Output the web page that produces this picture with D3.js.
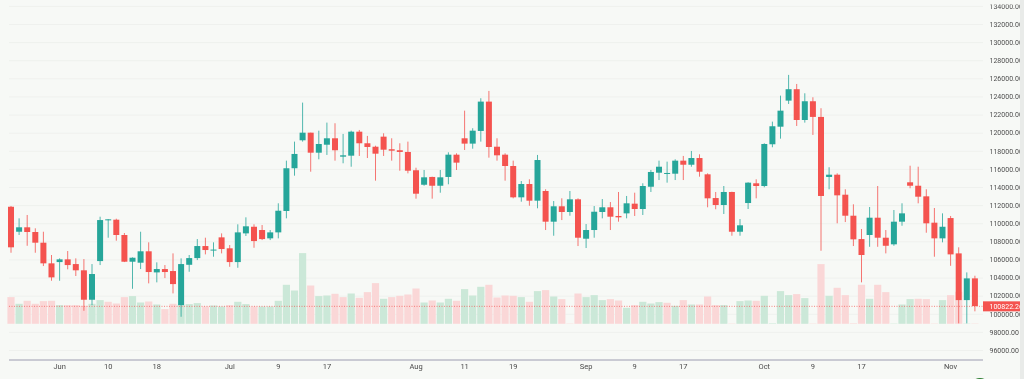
<!DOCTYPE html>
<html>
<head>
<meta charset="utf-8">
<style>
html, body { margin: 0; padding: 0; background: #f7f9f6; overflow: hidden; }
svg { display: block; filter: blur(0.45px); }
text { font-family: Roboto, sans-serif; }
</style>
<script src="https://cdn.jsdelivr.net/npm/d3@7"></script>
</head>
<body>
<div id="chart"></div>
<script>
var opens = [111820,109060,109550,109030,107850,105570,105710,106010,105490,104800,
  101550,105820,110350,110390,108700,105750,105640,106900,104570,104940,
  104720,100960,105410,106150,107480,107040,108440,107230,105710,108880,
  109610,109250,108330,108990,111350,116070,119160,120000,117790,118670,
  119380,117350,117460,120110,118830,118450,119560,118170,118060,117870,
  115850,114250,115110,114140,115110,117570,119380,118790,120190,123430,
  118450,117570,116320,112860,114330,112490,113560,110170,111870,111240,
  112640,108290,109250,111240,111760,110800,111090,112160,111570,114030,
  115580,115470,115470,116910,116460,117200,115400,112780,112010,113450,
  109060,112230,114410,114110,118720,120660,123540,124800,121400,123470,
  121740,115110,115360,113150,110830,108250,108700,110610,108400,107670,
  110170,114520,114140,112970,110060,108330,110570,106670,101510,103910];

var closes = [107340,109550,109030,107850,105570,104020,106010,105380,104800,101550,
  104390,110350,110430,108700,105750,106190,106900,104610,104940,104610,
  103280,105490,106150,107480,107040,107090,107150,105710,108990,109660,
  108030,108250,108990,111380,116070,117650,120000,117790,118750,119380,
  118060,117500,120110,118830,118420,117680,118120,118010,117870,115800,
  113260,115070,114140,115070,117570,116690,118790,120220,123430,118420,
  117500,116320,112860,114330,112490,116980,110170,111870,111240,112640,
  108400,109250,111270,111760,110720,110650,112200,111570,114110,115660,
  116240,115550,116910,116460,117200,115690,112750,112010,113450,109060,
  109770,114480,114110,118750,120710,122430,124800,121400,123470,121740,
  113010,115360,113080,110830,108220,106490,110610,108400,107510,110170,
  111090,114140,112930,109990,108330,109610,106560,101510,103910,100850];

var highs = [111900,110540,110910,109440,109060,106490,106120,106930,106120,106040,
  105490,110720,110460,110500,108920,106230,109060,107890,105680,105380,
  106670,106120,106490,108250,108400,107890,108880,107590,109880,110650,
  109880,109800,109250,112200,116910,119010,123320,120000,120220,121110,
  121040,119860,120220,120300,119640,118560,119930,119380,118830,119010,
  116130,115880,115140,115880,117830,117720,122430,120490,123800,124610,
  119380,117720,116910,114660,114850,117540,113750,112450,112750,113560,
  112750,109910,111900,112670,112340,113450,113010,113370,114410,115880,
  116910,116800,117060,117430,117980,117610,115510,113450,114110,113480,
  110460,114520,114850,118830,121220,124090,126380,125380,124350,123910,
  122700,116180,115510,113750,112090,109360,111790,114110,109250,111460,
  112200,116350,116240,113750,111680,111090,110800,107340,104570,104200];

var lows = [106740,108700,107510,106740,105270,103650,103650,104910,104170,100330,
  100960,105380,108400,108070,105710,102760,104940,103360,103470,103940,
  102250,99670,104640,105930,106560,106300,106670,105190,105080,108590,
  107290,108140,108140,108330,110540,115250,119010,115690,117060,117540,
  116910,116620,116240,117430,117200,114700,117430,116910,115800,115510,
  112710,114140,112710,113370,114300,115880,118090,118230,119010,117240,
  116910,114700,112750,112380,111930,111650,109250,108620,110350,110830,
  107480,107260,108400,110540,109250,110170,110540,110800,110910,113450,
  114770,114480,114770,114770,116240,115140,111760,111540,111020,108620,
  108620,111570,112750,113970,118390,119340,123170,120740,121110,119750,
  106960,113750,109990,110130,107480,103470,107400,107400,106670,107510,
  109720,113860,112200,108950,106300,107890,105300,98940,98940,100270];

// volume scale is unknown in the picture, values are relative
var volumes = [26.7,20,23,20,22.7,23,18.7,18.7,18.7,18,20,23.7,22,20.3,26.7,27.7,21.3,22.3,19.3,14.7,
  20,19,19.7,20.7,17.3,18.3,17.3,18.7,22,19.7,17.3,
  17.3,17.3,23,39,33.3,70.7,38.3,27.7,28.3,30,26.7,30.3,26,31.7,40.7,25,26.7,28,29.3,
  35.3,21.3,23.3,21.3,25,23,34.7,28.3,37,39,26.3,28.3,28,26.7,
  22,32.7,33.7,27.3,24.7,0.3,30.3,26.7,28.7,23.7,24.7,23.3,16,18.7,22,20.3,
  21.7,21,18,23.7,19.3,19.3,27.3,18.7,18.7,0.3,22.7,23.3,23,28,0.5,32.7,
  28.7,29.7,25.7,0.3,59.7,28,36,28.7,0.5,39,25,39,31.7,0.3,19.3,24.7,25,24.7,0.3,23.7,
  28.7,32,0.3,0.3];

var volumeSides = ("rgrrrrgrrrggrrrggrgrrgggrggrggr" +
  "ggggggrggrrgrrrgrrrrgrggrgggrrrrg" +
  "rgrgrrrgggrrgrgggrgrgrrrgrggrggg" +
  "grgrrgrrrrgrrgggrrrgrrgr").split("");

var tickIdx = [6,12,18,27,33,39,50,56,62,71,77,83,93,99,105,116];
var tickLabels = ["Jun","10","18","Jul","9","17","Aug","11","19","Sep","9","17","Oct","9","17","Nov"];
var priceTicks = d3.range(96000, 136000, 2000);
var lastPrice = 100822.26;

var width = 1024;
var height = 379;
var plotLeft = 9;
var plotRight = 983;

var green = "#26a69a";
var red = "#f4534f";

var svg = d3.select("#chart").append("svg")
    .attr("width", width)
    .attr("height", height);

var x = d3.scaleBand()
    .domain(d3.range(opens.length))
    .range([6.95, 6.95 + 8.1 * opens.length]);

var y = d3.scaleLinear()
    .domain([96000, 134000])
    .range([350, 5.9]);

var vol = d3.scaleLinear()
    .domain([0, 70.7])
    .range([323.8, 253.1]);

var mid = function (i) { return x(i) + x.bandwidth() / 2; };

// price axis + grid
var yAxis = d3.axisRight(y)
    .tickValues(priceTicks)
    .tickSize(0)
    .tickPadding(0)
    .tickFormat(function (d) { return d.toFixed(2); });

var yG = svg.append("g")
    .attr("transform", "translate(989.5,0)")
    .call(yAxis);
yG.select(".domain").remove();
yG.selectAll("text").attr("font-size", 7).attr("font-family", "Roboto, sans-serif").attr("fill", "#4f4f4f");
yG.selectAll(".tick line")
    .attr("x1", plotLeft - 989.5)
    .attr("x2", plotRight - 989.5)
    .attr("stroke", "#eff1ee");

// time axis
var xAxis = d3.axisBottom(x)
    .tickValues(tickIdx)
    .tickSize(0)
    .tickPadding(4)
    .tickFormat(function (d) { return tickLabels[tickIdx.indexOf(d)]; });

var xG = svg.append("g")
    .attr("transform", "translate(0,360)")
    .call(xAxis);
xG.select(".domain").remove();
xG.selectAll("text").attr("font-size", 7.5).attr("font-family", "Roboto, sans-serif").attr("fill", "#4a4a4a");

svg.append("line")
    .attr("x1", plotLeft).attr("x2", plotRight)
    .attr("y1", 360).attr("y2", 360)
    .attr("stroke", "#9c9cb0")
    .attr("stroke-width", 1);

// volume
svg.append("g").selectAll("rect")
    .data(volumes)
    .enter().append("rect")
    .attr("x", function (d, i) { return mid(i) - 3.6; })
    .attr("width", 7.2)
    .attr("y", function (d) { return vol(d); })
    .attr("height", function (d) { return vol(0) - vol(d); })
    .attr("fill", function (d, i) { return volumeSides[i] === "g" ? "#cbe8d8" : "#fad7d7"; });

// candles
var candles = svg.append("g").selectAll("g")
    .data(opens)
    .enter().append("g")
    .attr("fill", function (d, i) { return closes[i] >= d ? green : red; })
    .attr("stroke", function (d, i) { return closes[i] >= d ? green : red; });

candles.append("line")
    .attr("x1", function (d, i) { return mid(i); })
    .attr("x2", function (d, i) { return mid(i); })
    .attr("y1", function (d, i) { return y(highs[i]); })
    .attr("y2", function (d, i) { return y(lows[i]); })
    .attr("stroke-width", 0.8);

candles.append("rect")
    .attr("x", function (d, i) { return mid(i) - 3; })
    .attr("width", 6)
    .attr("y", function (d, i) { return y(Math.max(d, closes[i])); })
    .attr("height", function (d, i) { return Math.max(1, Math.abs(y(d) - y(closes[i]))); })
    .attr("stroke", "none");

// last price line + label
svg.append("line")
    .attr("x1", plotLeft).attr("x2", plotRight)
    .attr("y1", y(lastPrice)).attr("y2", y(lastPrice))
    .attr("stroke", red)
    .attr("stroke-opacity", 0.7)
    .attr("stroke-dasharray", "1,1.5");

svg.append("rect")
    .attr("x", plotRight).attr("width", 38)
    .attr("y", y(lastPrice) - 5).attr("height", 10)
    .attr("fill", red);

svg.append("text")
    .attr("x", 989.5).attr("y", y(lastPrice))
    .attr("dy", "0.32em")
    .attr("font-size", 7)
    .attr("fill", "#fff")
    .text(lastPrice.toFixed(2));

// right edge strip
svg.append("rect")
    .attr("x", 1020).attr("width", 4)
    .attr("y", 0).attr("height", height)
    .attr("fill", "#e9ebe9");

// top of the first price label is cut off in the source
svg.append("rect")
    .attr("x", 984).attr("width", 36)
    .attr("y", 0).attr("height", 4.5)
    .attr("fill", "#f7f9f6");

// corner badge, cut by the page bottom
svg.append("circle")
    .attr("cx", 980).attr("cy", 388).attr("r", 10)
    .attr("fill", "#2e7d32");
</script>
</body>
</html>
